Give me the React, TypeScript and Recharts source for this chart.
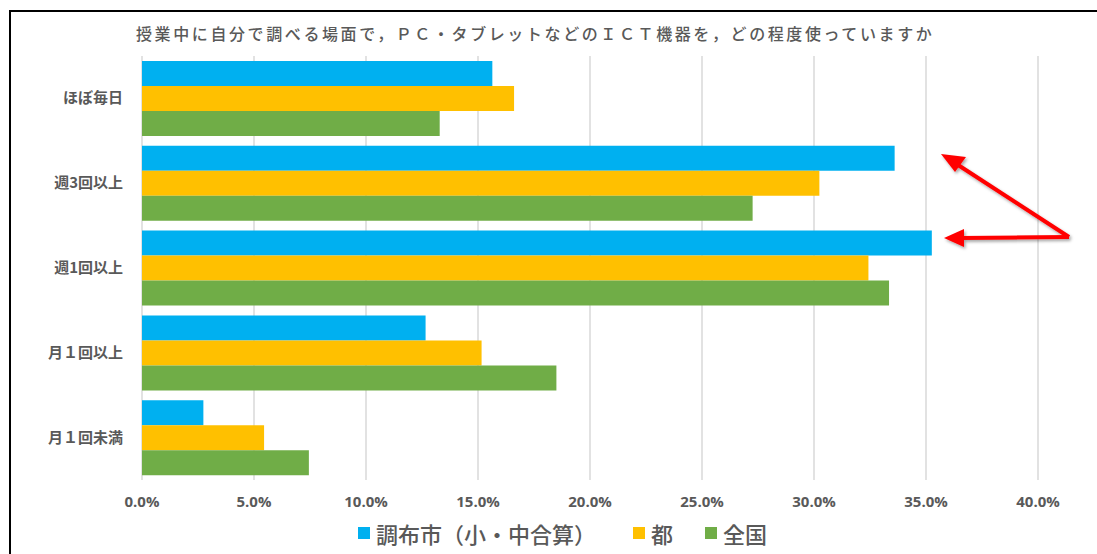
import { BarChart, Bar, XAxis, YAxis, CartesianGrid, Legend } from 'recharts';

const categories = ['ほぼ毎日', '週3回以上', '週1回以上', '月１回以上', '月１回未満'];
const chofu = [0.1564, 0.336, 0.3526, 0.1266, 0.0274];
const tokyo = [0.1661, 0.3024, 0.3243, 0.1516, 0.0545];
const national = [0.1329, 0.2726, 0.3335, 0.185, 0.0745];
const xTicks = [0, 0.05, 0.1, 0.15, 0.2, 0.25, 0.3, 0.35, 0.4];

const seriesNames = ['調布市（小・中合算）', '都', '全国'];
const colors = ['#00B0F0', '#FFC000', '#70AD47'];

const title = '授業中に自分で調べる場面で，ＰＣ・タブレットなどのＩＣＴ機器を，どの程度使っていますか';

const data = categories.map((name, i) => ({
  name,
  chofu: chofu[i],
  tokyo: tokyo[i],
  national: national[i],
}));

const grey = '#595959';
const jpFont = '"Noto Sans CJK JP", "Noto Sans", sans-serif';

function CategoryTick(props: any) {
  const { x, y, payload } = props;
  return (
    <text
      x={x}
      y={y}
      dy={5}
      textAnchor="end"
      fill={grey}
      fontSize={15}
      fontWeight={700}
      fontFamily={jpFont}
    >
      {payload.value}
    </text>
  );
}

function LegendContent() {
  return (
    <div style={{ display: 'flex', alignItems: 'center', fontFamily: jpFont }}>
      {seriesNames.map((n, i) => (
        <div key={n} style={{ display: 'flex', alignItems: 'center', marginRight: i === 0 ? 37 : 32 }}>
          <span style={{ width: 12, height: 12, background: colors[i], display: 'inline-block', marginRight: 6 }} />
          <span style={{ fontSize: 22, fontWeight: 500, color: grey, lineHeight: '30px' }}>{n}</span>
        </div>
      ))}
    </div>
  );
}

export default function App() {
  return (
    <div style={{ position: 'fixed', left: 0, top: 0, width: 1097, height: 554, overflow: 'hidden', background: '#fff' }}>
      <div
        style={{
          position: 'absolute',
          left: 9,
          top: 10,
          width: 1200,
          height: 600,
          borderLeft: '2px solid #000',
          borderTop: '2px solid #000',
        }}
      />
      <div
        style={{
          position: 'absolute',
          left: 136,
          top: 22,
          fontSize: 16,
          letterSpacing: 2.6,
          color: grey,
          fontWeight: 500,
          fontFamily: jpFont,
          whiteSpace: 'nowrap',
          lineHeight: '22px',
        }}
      >
        {title}
      </div>
      <div style={{ position: 'absolute', left: 0, top: 0 }}>
        <BarChart
          width={1097}
          height={554}
          data={data}
          layout="vertical"
          margin={{ top: 56, right: 59, bottom: 34, left: 0 }}
          barCategoryGap={5}
          barGap={0}
        >
          <CartesianGrid horizontal={false} stroke="#d9d9d9" strokeWidth={1.5} />
          <XAxis
            type="number"
            domain={[0, 0.4]}
            ticks={xTicks}
            interval={0}
            axisLine={false}
            tickLine={false}
            tickSize={0}
            tickMargin={16}
            height={40}
            tickFormatter={(v: number) => `${(v * 100).toFixed(1)}%`}
            tick={{ fill: grey, fontSize: 15, fontWeight: 700, fontFamily: '"Open Sans", sans-serif' }}
          />
          <YAxis
            type="category"
            dataKey="name"
            width={142}
            axisLine={false}
            tickLine={false}
            tickSize={0}
            tickMargin={19}
            tick={<CategoryTick />}
          />
          <Legend
            layout="horizontal"
            verticalAlign="middle"
            align="center"
            content={<LegendContent />}
            wrapperStyle={{ top: 518, left: 358, width: 'auto' }}
          />
          <Bar dataKey="chofu" name={seriesNames[0]} fill={colors[0]} isAnimationActive={false} />
          <Bar dataKey="tokyo" name={seriesNames[1]} fill={colors[1]} isAnimationActive={false} />
          <Bar dataKey="national" name={seriesNames[2]} fill={colors[2]} isAnimationActive={false} />
        </BarChart>
      </div>
      <svg
        width={1097}
        height={554}
        style={{ position: 'absolute', left: 0, top: 0, pointerEvents: 'none' }}
      >
        <defs>
          <filter id="sh" x="-20%" y="-20%" width="140%" height="140%">
            <feDropShadow dx={1.5} dy={2} stdDeviation={1.5} floodColor="#000" floodOpacity={0.35} />
          </filter>
        </defs>
        <g filter="url(#sh)" fill="#FF0000" stroke="#FF0000">
          <line x1={1069} y1={237} x2={955} y2={163} strokeWidth={4} />
          <line x1={1069} y1={237} x2={960} y2={238} strokeWidth={4} />
          <polygon points="941,154 966,157 955,172" stroke="none" />
          <polygon points="944,238 964,229 964,247" stroke="none" />
        </g>
      </svg>
    </div>
  );
}
